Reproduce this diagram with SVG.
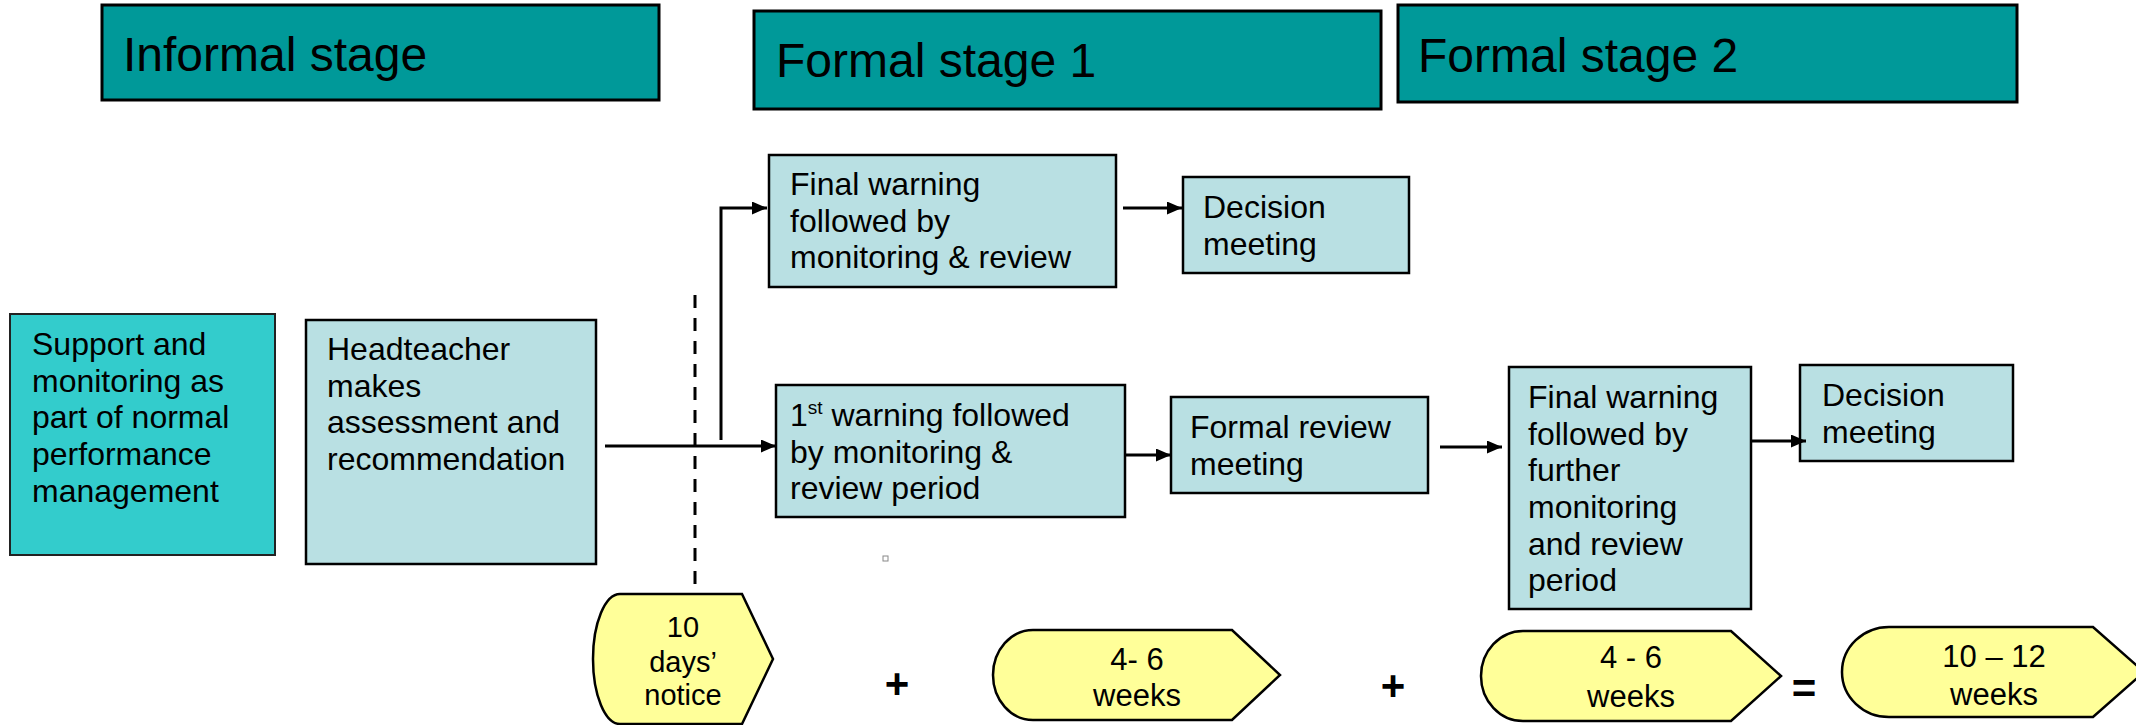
<svg xmlns="http://www.w3.org/2000/svg" width="2136" height="725" viewBox="0 0 2136 725">
<defs>
<marker id="arr" markerUnits="userSpaceOnUse" markerWidth="15" markerHeight="13" viewBox="0 0 15 13" refX="15" refY="6.5" orient="auto">
<path d="M0,0 L15,6.5 L0,13 z" fill="#000"/>
</marker>
<style>
text{font-family:"Liberation Sans",Arial,sans-serif;fill:#000}
.stage{fill:#009999;stroke:#000;stroke-width:3}
.t47{font-size:48px}
.t31{font-size:32px}
.sup{fill:#33CCCC;stroke:#222;stroke-width:2}
.lb{fill:#B9E0E3;stroke:#000;stroke-width:2.5}
.ye{fill:#FFFF99;stroke:#000;stroke-width:2.5}
.yt{font-size:31px;text-anchor:middle}
.op{font-size:42px;font-weight:bold;text-anchor:middle}
.con{fill:none;stroke:#000;stroke-width:3}
</style>
</defs>
<g id="informal"><rect class="stage" x="102" y="5" width="557" height="95"/><text class="t47" x="123" y="71">Informal stage</text></g>
<g id="formal1"><rect class="stage" x="754" y="11" width="627" height="98"/><text class="t47" x="776" y="77">Formal stage 1</text></g>
<g id="formal2"><rect class="stage" x="1398" y="5" width="619" height="97"/><text class="t47" x="1418" y="72">Formal stage 2</text></g>
<g id="support"><rect class="sup" x="10" y="314" width="265" height="241"/>
<text class="t31" x="32" y="355">Support and</text><text class="t31" x="32" y="392">monitoring as</text><text class="t31" x="32" y="428">part of normal</text><text class="t31" x="32" y="465">performance</text><text class="t31" x="32" y="502">management</text></g>
<g id="headteacher"><rect class="lb" x="306" y="320" width="290" height="244"/>
<text class="t31" x="327" y="360">Headteacher</text><text class="t31" x="327" y="397">makes</text><text class="t31" x="327" y="433">assessment and</text><text class="t31" x="327" y="470">recommendation</text></g>
<g id="finalwarning1"><rect class="lb" x="769" y="155" width="347" height="132"/>
<text class="t31" x="790" y="195">Final warning</text><text class="t31" x="790" y="232">followed by</text><text class="t31" x="790" y="268">monitoring &amp; review</text></g>
<g id="decision1"><rect class="lb" x="1183" y="177" width="226" height="96"/>
<text class="t31" x="1203" y="218">Decision</text><text class="t31" x="1203" y="255">meeting</text></g>
<g id="firstwarning"><rect class="lb" x="776" y="385" width="349" height="132"/>
<text class="t31" x="790" y="426">1<tspan font-size="19" dy="-12">st</tspan><tspan dy="12"> warning followed</tspan></text><text class="t31" x="790" y="463">by monitoring &amp;</text><text class="t31" x="790" y="499">review period</text></g>
<g id="formalreview"><rect class="lb" x="1171" y="397" width="257" height="96"/>
<text class="t31" x="1190" y="438">Formal review</text><text class="t31" x="1190" y="475">meeting</text></g>
<g id="finalwarning2"><rect class="lb" x="1509" y="367" width="242" height="242"/>
<text class="t31" x="1528" y="408">Final warning</text><text class="t31" x="1528" y="445">followed by</text><text class="t31" x="1528" y="481">further</text><text class="t31" x="1528" y="518">monitoring</text><text class="t31" x="1528" y="555">and review</text><text class="t31" x="1528" y="591">period</text></g>
<g id="decision2"><rect class="lb" x="1800" y="365" width="213" height="96"/>
<text class="t31" x="1822" y="406">Decision</text><text class="t31" x="1822" y="443">meeting</text></g>
<g id="connectors">
<path class="con" d="M605,446 L776,446" marker-end="url(#arr)"/>
<path class="con" d="M721,440 L721,208 L767,208" marker-end="url(#arr)"/>
<path class="con" d="M1123,208 L1182,208" marker-end="url(#arr)"/>
<path class="con" d="M1126,455 L1171,455" marker-end="url(#arr)"/>
<path class="con" d="M1440,447 L1502,447" marker-end="url(#arr)"/>
<path class="con" d="M1751,441 L1806,441" marker-end="url(#arr)"/>
<path class="con" d="M695,295 L695,592" stroke-dasharray="13 10"/>
</g>
<rect id="dot" x="883" y="556" width="5" height="5" fill="#fff" stroke="#888" stroke-width="1"/>
<g id="notice"><path class="ye" d="M620,594 L742,594 L773,659 L742,724 L620,724 A27,65 0 0 1 620,594 z"/>
<text class="yt" style="font-size:29px" x="683" y="637">10</text><text class="yt" style="font-size:29px" x="683" y="672">days’</text><text class="yt" style="font-size:29px" x="683" y="705">notice</text></g>
<text class="op" x="897" y="698">+</text>
<g id="weeks1"><path class="ye" d="M1033,630 L1232,630 L1280,675 L1232,720 L1033,720 A40,45 0 0 1 1033,630 z"/>
<text class="yt" x="1137" y="670">4- 6</text><text class="yt" x="1137" y="706">weeks</text></g>
<text class="op" x="1393" y="700">+</text>
<g id="weeks2"><path class="ye" d="M1523,631 L1731,631 L1781,676 L1731,721 L1523,721 A42,45 0 0 1 1523,631 z"/>
<text class="yt" x="1631" y="668">4 - 6</text><text class="yt" x="1631" y="707">weeks</text></g>
<text class="op" x="1804" y="703">=</text>
<g id="total"><path class="ye" d="M1889,627 L2093,627 L2144,672 L2093,717 L1889,717 A47,45 0 0 1 1889,627 z"/>
<text class="yt" x="1994" y="667">10 – 12</text><text class="yt" x="1994" y="705">weeks</text></g>
</svg>
